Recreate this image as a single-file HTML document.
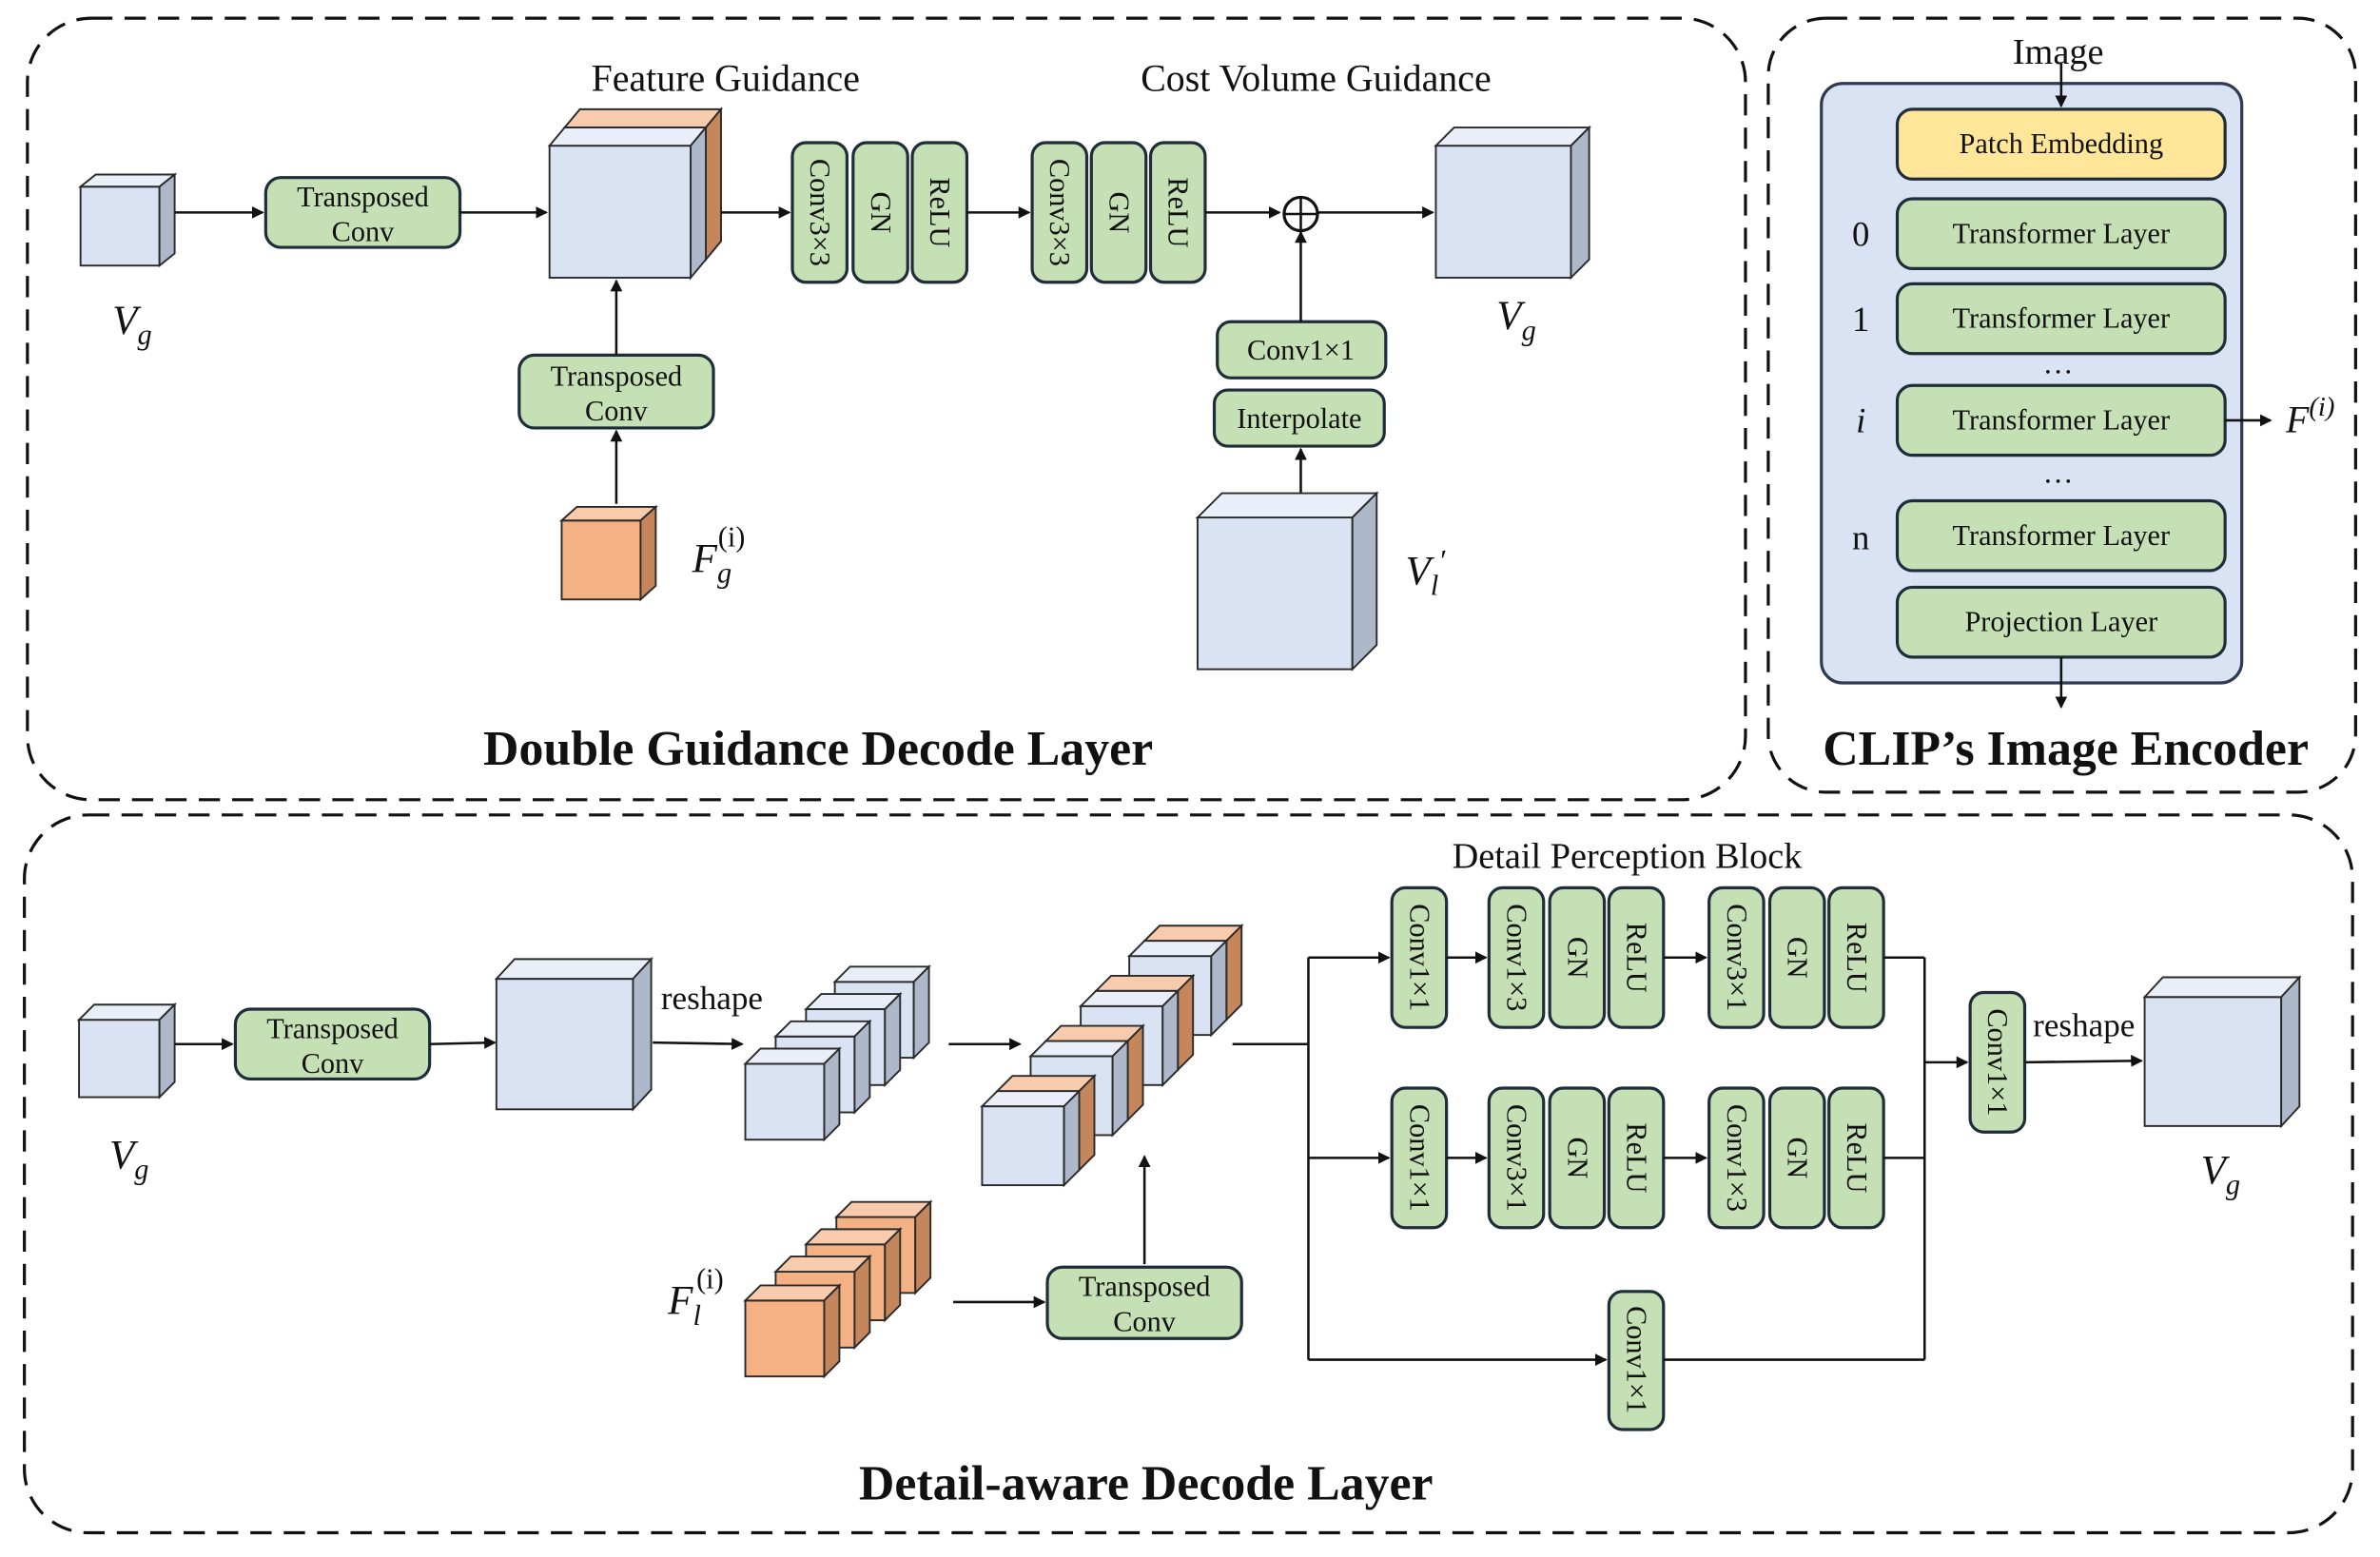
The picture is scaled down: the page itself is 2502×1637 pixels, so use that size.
<!DOCTYPE html>
<html><head><meta charset="utf-8"><style>
html,body{margin:0;padding:0;background:#fff}
svg{display:block}
text{font-family:"Liberation Serif",serif;fill:#111}
.g{fill:#c5e0b4;stroke:#1f2d3a;stroke-width:2}
.f{fill:#dae3f3;stroke:#2a2a2a;stroke-width:1.2}
.t{fill:#e9eef8;stroke:#2a2a2a;stroke-width:1.2}
.s{fill:#adb9ca;stroke:#2a2a2a;stroke-width:1.2}
.of{fill:#f4b183;stroke:#2a2a2a;stroke-width:1.2}
.ot{fill:#f8cbad;stroke:#2a2a2a;stroke-width:1.2}
.os{fill:#c5865c;stroke:#2a2a2a;stroke-width:1.2}
.l{stroke:#111;stroke-width:1.6;fill:none}
.d{fill:none;stroke:#111;stroke-width:2;stroke-dasharray:14 8}
.bt{font-size:19px}
.vt{font-size:19px}
.ti{font-size:32.5px;font-weight:bold}
</style></head><body>
<svg width="2502" height="1637" viewBox="0 0 1568 1026" xmlns="http://www.w3.org/2000/svg">
<defs><marker id="a" markerWidth="8" markerHeight="8" refX="7" refY="4" orient="auto" markerUnits="userSpaceOnUse"><path d="M0,0 L8,4 L0,8 z" fill="#111"/></marker></defs>

<rect class="d" x="18" y="12" width="1132" height="515" rx="42"/>
<rect class="d" x="1165" y="12" width="387" height="510" rx="38"/>
<rect class="d" x="16" y="537" width="1534" height="473" rx="42"/>

<!-- TOP -->
<g><rect class="f" x="53" y="123" width="52" height="52"/><polygon class="t" points="53,123 63,115 115,115 105,123"/><polygon class="s" points="105,123 115,115 115,167 105,175"/></g>
<line class="l" x1="115" y1="140" x2="173" y2="140" marker-end="url(#a)"/>
<rect class="g" x="175" y="117" width="128" height="46" rx="10"/>
<text class="bt" x="239" y="136" text-anchor="middle">Transposed</text><text class="bt" x="239" y="159" text-anchor="middle">Conv</text>
<line class="l" x1="303" y1="140" x2="360" y2="140" marker-end="url(#a)"/>
<g><rect class="of" x="372" y="84" width="93" height="87"/><polygon class="ot" points="372,84 382,72 475,72 465,84"/><polygon class="os" points="465,84 475,72 475,159 465,171"/></g>
<g><rect class="f" x="362" y="96" width="93" height="87"/><polygon class="t" points="362,96 372,84 465,84 455,96"/><polygon class="s" points="455,96 465,84 465,171 455,183"/></g>
<line class="l" x1="475" y1="140" x2="520" y2="140" marker-end="url(#a)"/>
<g>
<rect class="g" x="522" y="94" width="36" height="92" rx="9"/><rect class="g" x="562" y="94" width="36" height="92" rx="9"/><rect class="g" x="601" y="94" width="36" height="92" rx="9"/>
<text class="vt" transform="translate(534,140) rotate(90)" text-anchor="middle">Conv3×3</text>
<text class="vt" transform="translate(574,140) rotate(90)" text-anchor="middle">GN</text>
<text class="vt" transform="translate(613,140) rotate(90)" text-anchor="middle">ReLU</text>
</g>
<line class="l" x1="637" y1="140" x2="678" y2="140" marker-end="url(#a)"/>
<g>
<rect class="g" x="680" y="94" width="36" height="92" rx="9"/><rect class="g" x="719" y="94" width="36" height="92" rx="9"/><rect class="g" x="758" y="94" width="36" height="92" rx="9"/>
<text class="vt" transform="translate(692,140) rotate(90)" text-anchor="middle">Conv3×3</text>
<text class="vt" transform="translate(731,140) rotate(90)" text-anchor="middle">GN</text>
<text class="vt" transform="translate(770,140) rotate(90)" text-anchor="middle">ReLU</text>
</g>
<line class="l" x1="794" y1="140" x2="843" y2="140" marker-end="url(#a)"/>
<circle cx="857" cy="141" r="11" fill="#fff" stroke="#111" stroke-width="2"/>
<line class="l" x1="846" y1="141" x2="868" y2="141"/><line class="l" x1="857" y1="130" x2="857" y2="152"/>
<line class="l" x1="868" y1="140" x2="944" y2="140" marker-end="url(#a)"/>
<g><rect class="f" x="946" y="96" width="89" height="87"/><polygon class="t" points="946,96 958,84 1047,84 1035,96"/><polygon class="s" points="1035,96 1047,84 1047,171 1035,183"/></g>
<rect class="g" x="802" y="212" width="111" height="37" rx="9"/><text class="bt" x="857" y="237" text-anchor="middle">Conv1×1</text>
<rect class="g" x="800" y="257" width="112" height="37" rx="9"/><text class="bt" x="856" y="282" text-anchor="middle">Interpolate</text>
<line class="l" x1="857" y1="212" x2="857" y2="153" marker-end="url(#a)"/>
<line class="l" x1="857" y1="325" x2="857" y2="296" marker-end="url(#a)"/>
<g><rect class="f" x="789" y="341" width="102" height="100"/><polygon class="t" points="789,341 805,325 907,325 891,341"/><polygon class="s" points="891,341 907,325 907,425 891,441"/></g>
<rect class="g" x="342" y="234" width="128" height="48" rx="10"/>
<text class="bt" x="406" y="254" text-anchor="middle">Transposed</text><text class="bt" x="406" y="277" text-anchor="middle">Conv</text>
<line class="l" x1="406" y1="234" x2="406" y2="185" marker-end="url(#a)"/>
<line class="l" x1="406" y1="332" x2="406" y2="284" marker-end="url(#a)"/>
<g><rect class="of" x="370" y="343" width="52" height="52"/><polygon class="ot" points="370,343 380,334 432,334 422,343"/><polygon class="os" points="422,343 432,334 432,386 422,395"/></g>
<text x="478" y="60" font-size="25" text-anchor="middle">Feature Guidance</text>
<text x="867" y="60" font-size="25" text-anchor="middle">Cost Volume Guidance</text>
<text x="74" y="220" font-size="27" font-style="italic">V<tspan font-size="19" dy="7">g</tspan></text>
<text x="456" y="377" font-size="27" font-style="italic">F<tspan font-size="19" dy="7">g</tspan><tspan font-size="19" dx="-9" dy="-24" font-style="normal">(i)</tspan></text>
<text x="986" y="217" font-size="27" font-style="italic">V<tspan font-size="19" dy="7">g</tspan></text>
<text x="926" y="385" font-size="27" font-style="italic">V<tspan font-size="19" dy="7">l</tspan><tspan font-size="20" dy="-16">′</tspan></text>
<text class="ti" x="539" y="504" text-anchor="middle">Double Guidance Decode Layer</text>

<!-- CLIP -->
<text x="1356" y="42" font-size="24" text-anchor="middle">Image</text>
<rect x="1200" y="55" width="277" height="395" rx="14" fill="#dae3f3" stroke="#2f3b52" stroke-width="2"/>
<line class="l" x1="1358" y1="42" x2="1358" y2="70" marker-end="url(#a)"/>
<rect x="1250" y="72" width="216" height="46" rx="10" fill="#ffe699" stroke="#1f2d3a" stroke-width="2"/><text class="bt" x="1358" y="101" text-anchor="middle">Patch Embedding</text>
<rect class="g" x="1250" y="131" width="216" height="46" rx="10"/><text class="bt" x="1358" y="160" text-anchor="middle">Transformer Layer</text>
<rect class="g" x="1250" y="187" width="216" height="46" rx="10"/><text class="bt" x="1358" y="216" text-anchor="middle">Transformer Layer</text>
<rect class="g" x="1250" y="254" width="216" height="46" rx="10"/><text class="bt" x="1358" y="283" text-anchor="middle">Transformer Layer</text>
<rect class="g" x="1250" y="330" width="216" height="46" rx="10"/><text class="bt" x="1358" y="359" text-anchor="middle">Transformer Layer</text>
<rect class="g" x="1250" y="387" width="216" height="46" rx="10"/><text class="bt" x="1358" y="416" text-anchor="middle">Projection Layer</text>
<text x="1226" y="162" font-size="23" text-anchor="middle">0</text>
<text x="1226" y="218" font-size="23" text-anchor="middle">1</text>
<text x="1226" y="285" font-size="23" font-style="italic" text-anchor="middle">i</text>
<text x="1226" y="362" font-size="23" text-anchor="middle">n</text>
<text x="1356" y="246" font-size="20" text-anchor="middle">…</text>
<text x="1356" y="318" font-size="20" text-anchor="middle">…</text>
<line class="l" x1="1466" y1="277" x2="1496" y2="277" marker-end="url(#a)"/>
<text x="1506" y="285" font-size="25" font-style="italic">F<tspan font-size="18" dy="-11">(i)</tspan></text>
<line class="l" x1="1358" y1="433" x2="1358" y2="466" marker-end="url(#a)"/>
<text class="ti" x="1361" y="504" text-anchor="middle">CLIP’s Image Encoder</text>

<!-- BOTTOM -->
<g><rect class="f" x="52" y="672" width="53" height="51"/><polygon class="t" points="52,672 62,662 115,662 105,672"/><polygon class="s" points="105,672 115,662 115,713 105,723"/></g>
<line class="l" x1="115" y1="688" x2="153" y2="688" marker-end="url(#a)"/>
<rect class="g" x="155" y="665" width="128" height="46" rx="10"/>
<text class="bt" x="219" y="684" text-anchor="middle">Transposed</text><text class="bt" x="219" y="707" text-anchor="middle">Conv</text>
<line class="l" x1="283" y1="688" x2="326" y2="687" marker-end="url(#a)"/>
<g><rect class="f" x="327" y="645" width="90" height="86"/><polygon class="t" points="327,645 339,632 429,632 417,645"/><polygon class="s" points="417,645 429,632 429,718 417,731"/></g>
<text x="469" y="665" font-size="22" text-anchor="middle">reshape</text>
<line class="l" x1="430" y1="687" x2="489" y2="688" marker-end="url(#a)"/>
<g><rect class="f" x="550" y="647" width="52" height="50"/><polygon class="t" points="550,647 560,637 612,637 602,647"/><polygon class="s" points="602,647 612,637 612,687 602,697"/></g>
<g><rect class="f" x="531" y="665" width="52" height="50"/><polygon class="t" points="531,665 541,655 593,655 583,665"/><polygon class="s" points="583,665 593,655 593,705 583,715"/></g>
<g><rect class="f" x="511" y="683" width="52" height="50"/><polygon class="t" points="511,683 521,673 573,673 563,683"/><polygon class="s" points="563,683 573,673 573,723 563,733"/></g>
<g><rect class="f" x="491" y="701" width="52" height="50"/><polygon class="t" points="491,701 501,691 553,691 543,701"/><polygon class="s" points="543,701 553,691 553,741 543,751"/></g>
<line class="l" x1="625" y1="688" x2="672" y2="688" marker-end="url(#a)"/>
<g><rect class="of" x="754" y="620" width="54" height="52"/><polygon class="ot" points="754,620 764,610 818,610 808,620"/><polygon class="os" points="808,620 818,610 818,662 808,672"/>
<rect class="f" x="744" y="630" width="54" height="52"/><polygon class="t" points="744,630 754,620 808,620 798,630"/><polygon class="s" points="798,630 808,620 808,672 798,682"/></g>
<g><rect class="of" x="722" y="653" width="54" height="52"/><polygon class="ot" points="722,653 732,643 786,643 776,653"/><polygon class="os" points="776,653 786,643 786,695 776,705"/>
<rect class="f" x="712" y="663" width="54" height="52"/><polygon class="t" points="712,663 722,653 776,653 766,663"/><polygon class="s" points="766,663 776,653 776,705 766,715"/></g>
<g><rect class="of" x="689" y="686" width="54" height="52"/><polygon class="ot" points="689,686 699,676 753,676 743,686"/><polygon class="os" points="743,686 753,676 753,728 743,738"/>
<rect class="f" x="679" y="696" width="54" height="52"/><polygon class="t" points="679,696 689,686 743,686 733,696"/><polygon class="s" points="733,696 743,686 743,738 733,748"/></g>
<g><rect class="of" x="657" y="719" width="54" height="52"/><polygon class="ot" points="657,719 667,709 721,709 711,719"/><polygon class="os" points="711,719 721,709 721,761 711,771"/>
<rect class="f" x="647" y="729" width="54" height="52"/><polygon class="t" points="647,729 657,719 711,719 701,729"/><polygon class="s" points="701,729 711,719 711,771 701,781"/></g>
<line class="l" x1="754" y1="833" x2="754" y2="762" marker-end="url(#a)"/>
<g><rect class="of" x="551" y="802" width="52" height="50"/><polygon class="ot" points="551,802 561,792 613,792 603,802"/><polygon class="os" points="603,802 613,792 613,842 603,852"/></g>
<g><rect class="of" x="531" y="820" width="52" height="50"/><polygon class="ot" points="531,820 541,810 593,810 583,820"/><polygon class="os" points="583,820 593,810 593,860 583,870"/></g>
<g><rect class="of" x="511" y="838" width="52" height="50"/><polygon class="ot" points="511,838 521,828 573,828 563,838"/><polygon class="os" points="563,838 573,828 573,878 563,888"/></g>
<g><rect class="of" x="491" y="857" width="52" height="50"/><polygon class="ot" points="491,857 501,847 553,847 543,857"/><polygon class="os" points="543,857 553,847 553,897 543,907"/></g>
<text x="440" y="866" font-size="27" font-style="italic">F<tspan font-size="19" dy="7">l</tspan><tspan font-size="19" dx="-3" dy="-24" font-style="normal">(i)</tspan></text>
<line class="l" x1="628" y1="858" x2="688" y2="858" marker-end="url(#a)"/>
<rect class="g" x="690" y="835" width="128" height="47" rx="10"/>
<text class="bt" x="754" y="854" text-anchor="middle">Transposed</text><text class="bt" x="754" y="877" text-anchor="middle">Conv</text>
<polyline class="l" points="812,688 862,688"/>
<line class="l" x1="862" y1="631" x2="862" y2="896"/>
<line class="l" x1="862" y1="631" x2="915" y2="631" marker-end="url(#a)"/>
<line class="l" x1="862" y1="763" x2="915" y2="763" marker-end="url(#a)"/>
<line class="l" x1="862" y1="896" x2="1058" y2="896" marker-end="url(#a)"/>
<text x="1072" y="572" font-size="24" text-anchor="middle">Detail Perception Block</text>
<rect class="g" x="917" y="585" width="36" height="92" rx="9"/><text class="vt" transform="translate(929,631) rotate(90)" text-anchor="middle">Conv1×1</text>
<line class="l" x1="953" y1="631" x2="979" y2="631" marker-end="url(#a)"/>
<rect class="g" x="981" y="585" width="36" height="92" rx="9"/><text class="vt" transform="translate(993,631) rotate(90)" text-anchor="middle">Conv1×3</text>
<rect class="g" x="1021" y="585" width="36" height="92" rx="9"/><text class="vt" transform="translate(1033,631) rotate(90)" text-anchor="middle">GN</text>
<rect class="g" x="1060" y="585" width="36" height="92" rx="9"/><text class="vt" transform="translate(1072,631) rotate(90)" text-anchor="middle">ReLU</text>
<line class="l" x1="1096" y1="631" x2="1124" y2="631" marker-end="url(#a)"/>
<rect class="g" x="1126" y="585" width="36" height="92" rx="9"/><text class="vt" transform="translate(1138,631) rotate(90)" text-anchor="middle">Conv3×1</text>
<rect class="g" x="1166" y="585" width="36" height="92" rx="9"/><text class="vt" transform="translate(1178,631) rotate(90)" text-anchor="middle">GN</text>
<rect class="g" x="1205" y="585" width="36" height="92" rx="9"/><text class="vt" transform="translate(1217,631) rotate(90)" text-anchor="middle">ReLU</text>
<rect class="g" x="917" y="717" width="36" height="92" rx="9"/><text class="vt" transform="translate(929,763) rotate(90)" text-anchor="middle">Conv1×1</text>
<line class="l" x1="953" y1="763" x2="979" y2="763" marker-end="url(#a)"/>
<rect class="g" x="981" y="717" width="36" height="92" rx="9"/><text class="vt" transform="translate(993,763) rotate(90)" text-anchor="middle">Conv3×1</text>
<rect class="g" x="1021" y="717" width="36" height="92" rx="9"/><text class="vt" transform="translate(1033,763) rotate(90)" text-anchor="middle">GN</text>
<rect class="g" x="1060" y="717" width="36" height="92" rx="9"/><text class="vt" transform="translate(1072,763) rotate(90)" text-anchor="middle">ReLU</text>
<line class="l" x1="1096" y1="763" x2="1124" y2="763" marker-end="url(#a)"/>
<rect class="g" x="1126" y="717" width="36" height="92" rx="9"/><text class="vt" transform="translate(1138,763) rotate(90)" text-anchor="middle">Conv1×3</text>
<rect class="g" x="1166" y="717" width="36" height="92" rx="9"/><text class="vt" transform="translate(1178,763) rotate(90)" text-anchor="middle">GN</text>
<rect class="g" x="1205" y="717" width="36" height="92" rx="9"/><text class="vt" transform="translate(1217,763) rotate(90)" text-anchor="middle">ReLU</text>
<rect class="g" x="1060" y="851" width="36" height="91" rx="9"/><text class="vt" transform="translate(1072,896) rotate(90)" text-anchor="middle">Conv1×1</text>
<line class="l" x1="1241" y1="631" x2="1268" y2="631"/>
<line class="l" x1="1241" y1="763" x2="1268" y2="763"/>
<line class="l" x1="1096" y1="896" x2="1268" y2="896"/>
<line class="l" x1="1268" y1="631" x2="1268" y2="896"/>
<line class="l" x1="1268" y1="700" x2="1296" y2="700" marker-end="url(#a)"/>
<rect class="g" x="1298" y="654" width="36" height="92" rx="9"/><text class="vt" transform="translate(1310,700) rotate(90)" text-anchor="middle">Conv1×1</text>
<text x="1373" y="683" font-size="22" text-anchor="middle">reshape</text>
<line class="l" x1="1334" y1="700" x2="1411" y2="699" marker-end="url(#a)"/>
<g><rect class="f" x="1413" y="657" width="90" height="85"/><polygon class="t" points="1413,657 1425,644 1515,644 1503,657"/><polygon class="s" points="1503,657 1515,644 1515,729 1503,742"/></g>
<text x="72" y="770" font-size="27" font-style="italic">V<tspan font-size="19" dy="7">g</tspan></text>
<text x="1450" y="780" font-size="27" font-style="italic">V<tspan font-size="19" dy="7">g</tspan></text>
<text class="ti" x="755" y="988" text-anchor="middle">Detail-aware Decode Layer</text>
</svg>
</body></html>
